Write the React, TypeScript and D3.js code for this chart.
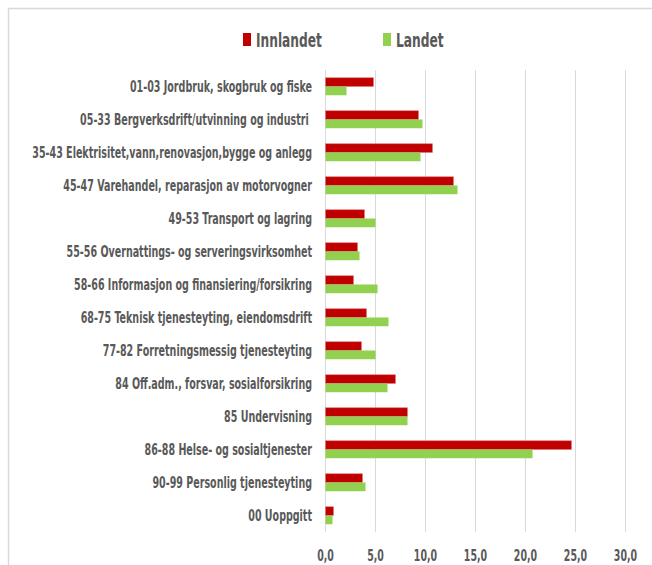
import React, { useLayoutEffect, useRef, useState } from "react";
import * as d3 from "d3";

const categories = [
  "01-03 Jordbruk, skogbruk og fiske",
  "05-33 Bergverksdrift/utvinning og industri ",
  "35-43 Elektrisitet,vann,renovasjon,bygge og anlegg",
  "45-47 Varehandel, reparasjon av motorvogner",
  "49-53 Transport og lagring",
  "55-56 Overnattings- og serveringsvirksomhet",
  "58-66 Informasjon og finansiering/forsikring",
  "68-75 Teknisk tjenesteyting, eiendomsdrift",
  "77-82 Forretningsmessig tjenesteyting",
  "84 Off.adm., forsvar, sosialforsikring",
  "85 Undervisning",
  "86-88 Helse- og sosialtjenester",
  "90-99 Personlig tjenesteyting",
  "00 Uoppgitt",
];
const innlandet = [4.8, 9.3, 10.7, 12.8, 3.9, 3.2, 2.8, 4.1, 3.6, 7.0, 8.2, 24.6, 3.7, 0.8];
const landet = [2.1, 9.7, 9.5, 13.2, 5.0, 3.4, 5.2, 6.3, 5.0, 6.2, 8.2, 20.7, 4.0, 0.7];
const xTicks = [0, 5, 10, 15, 20, 25, 30];
const seriesNames = ["Innlandet", "Landet"];
const seriesColors = ["#C00000", "#92D050"];

const FONT = "'Liberation Sans Narrow', 'DejaVu Sans Condensed', 'Liberation Sans', sans-serif";
const TEXT = "#595959";

export default function App() {
  const W = 652, H = 565;
  const x = d3.scaleLinear().domain([0, 30]).range([325.5, 625.5]);
  const y = d3.scaleBand<string>().domain(categories).range([70, 532]).paddingInner(0.47).paddingOuter(0.235);
  const bh = y.bandwidth() / 2;
  const fmt = (v: number) => d3.format(".1f")(v).replace(".", ",");

  const longRef = useRef<SVGTextElement>(null);
  const tickRef = useRef<SVGTextElement>(null);
  const legRef = useRef<SVGTextElement>(null);
  const [sc, setSc] = useState({ lab: 1, tick: 1, leg: 1 });
  useLayoutEffect(() => {
    const l = longRef.current?.getComputedTextLength() || 280;
    const t = tickRef.current?.getComputedTextLength() || 23.3;
    const g = legRef.current?.getComputedTextLength() || 65;
    setSc({ lab: 280 / l, tick: 23.3 / t, leg: 66 / g });
  }, []);

  const legendX = [243, 383];

  return (
    <svg width={W} height={H} style={{ position: "absolute", left: 0, top: 0, background: "#fff" }}>
      <rect x={8.5} y={8.5} width={W + 20} height={H + 20} fill="#fff" stroke="#d9d9d9" strokeWidth={1.5} />
      {xTicks.map((t) => (
        <line key={t} x1={x(t)} x2={x(t)} y1={70} y2={532} stroke="#d9d9d9" strokeWidth={1} />
      ))}
      {categories.map((c, i) => (
        <g key={c}>
          <rect x={x(0)} y={y(c)!} width={x(innlandet[i]) - x(0)} height={bh} fill={seriesColors[0]} stroke="#e07a7a" strokeWidth={0.6} />
          <rect x={x(0)} y={y(c)! + bh} width={x(landet[i]) - x(0)} height={bh} fill={seriesColors[1]} />
        </g>
      ))}
      {categories.map((c, i) => (
        <text
          key={c}
          ref={i === 2 ? longRef : undefined}
          transform={`translate(312,${y(c)! + y.bandwidth() / 2}) scale(${sc.lab},1)`}
          textAnchor="end"
          dy="0.36em"
          fontFamily={FONT}
          fontSize={15.5}
          fontWeight={600}
          fill={TEXT}
          style={{ whiteSpace: "pre" }}
        >
          {c}
        </text>
      ))}
      {xTicks.map((t, i) => (
        <text
          key={t}
          ref={i === 6 ? tickRef : undefined}
          transform={`translate(${x(t)},555) scale(${sc.tick},1)`}
          textAnchor="middle"
          dy="0.36em"
          fontFamily={FONT}
          fontSize={16}
          fontWeight="bold"
          fill={TEXT}
        >
          {fmt(t)}
        </text>
      ))}
      {seriesNames.map((s, i) => (
        <g key={s}>
          <rect x={legendX[i]} y={33} width={8} height={13} fill={seriesColors[i]} />
          <text
            ref={i === 0 ? legRef : undefined}
            transform={`translate(${legendX[i] + 13},40) scale(${sc.leg},1)`}
            dy="0.36em"
            fontFamily={FONT}
            fontSize={19}
            fontWeight={600}
            fill={TEXT}
          >
            {s}
          </text>
        </g>
      ))}
    </svg>
  );
}
